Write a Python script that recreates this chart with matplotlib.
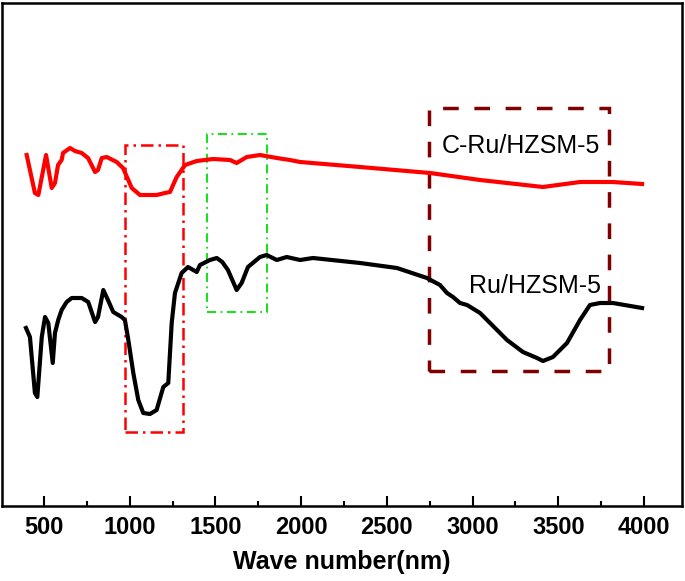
import matplotlib.pyplot as plt
from matplotlib.patches import Rectangle

plt.rcParams['font.family'] = ['Liberation Sans', 'DejaVu Sans']

# C-Ru/HZSM-5 spectrum (arbitrary transmittance units)
wn_cru = [399, 447, 467, 512, 545, 564, 582, 603, 611, 652, 681, 720, 757, 798, 815,
          837, 866, 924, 961, 1012, 1060, 1157, 1206, 1235, 1274, 1323, 1391, 1486,
          1585, 1624, 1683, 1760, 1858, 1935, 1994, 2344, 2752, 3044, 3411, 3627,
          3819, 3989]
t_cru = [351, 313, 311, 351, 318, 323, 341, 346, 353, 358, 355, 353, 348, 334, 336,
         348, 349, 344, 338, 318, 311, 311, 313, 314, 329, 341, 345, 347,
         346, 343, 349, 351, 348, 346, 344, 339, 333, 326, 319, 324,
         324, 322]

# Ru/HZSM-5 spectrum
wn_ru = [395, 418, 447, 461, 487, 506, 525, 551, 564, 583, 603, 632, 662, 720, 758,
         798, 815, 846, 873, 904, 953, 972, 992, 1021, 1050, 1079, 1118, 1157, 1196,
         1225, 1245, 1264, 1303, 1340, 1391, 1410, 1468, 1508, 1540, 1573, 1624, 1653,
         1690, 1760, 1799, 1858, 1916, 1994, 2069, 2344, 2559, 2734, 2810, 2851, 2886,
         2927, 2968, 3044, 3201, 3294, 3376, 3411, 3469, 3551, 3627, 3685, 3744, 3819,
         3989]
t_ru = [178, 169, 113, 109, 169, 189, 183, 143, 173, 186, 196, 204, 208, 208, 204,
        184, 189, 216, 206, 194, 189, 186, 166, 133, 106, 93, 92, 96, 119,
        123, 183, 213, 233, 239, 234, 241, 246, 248, 244, 236, 216, 223,
        239, 249, 251, 246, 249, 246, 248, 243, 238, 228, 221, 213, 209,
        203, 201, 193, 166, 154, 148, 145, 149, 163, 186, 201, 203, 203,
        198]

labels = ['C-Ru/HZSM-5', 'Ru/HZSM-5']
label_pos = [(3283, 360), (3365, 220)]

# highlighted regions: (x0, x1, y0, y1)
boxes = [(972, 1311, 74, 361), (1453, 1799, 194, 372), (2748, 3798, 135, 398)]
box_colors = ['#ff0000', '#00e000', '#800000']
box_dashes = [(5, 2, 1, 2), (5, 2.5, 1, 2.5), (4.5, 4.5)]
box_widths = [1.8, 1.3, 2.5]

fig = plt.figure(figsize=(6.85, 5.81), dpi=100)
ax = fig.add_axes([2 / 685, 75 / 581, 680 / 685, 503 / 581])

ax.plot(wn_cru, t_cru, color='#ff0000', lw=3)
ax.plot(wn_ru, t_ru, color='black', lw=3)

for (x0, x1, y0, y1), c, d, w in zip(boxes, box_colors, box_dashes, box_widths):
    r = Rectangle((x0, y0), x1 - x0, y1 - y0, fill=False, edgecolor=c, lw=w)
    r.set_linestyle((0, d))
    ax.add_patch(r)

for lab, (x, y) in zip(labels, label_pos):
    ax.text(x, y, lab, fontsize=18, ha='center', va='center')

ax.set_xlim(255, 4222)
ax.set_ylim(0, 503)
ax.set_xticks([500, 1000, 1500, 2000, 2500, 3000, 3500, 4000])
ax.set_xticks([750, 1250, 1750, 2250, 2750, 3250, 3750], minor=True)
ax.set_yticks([])
ax.tick_params(axis='x', which='major', direction='in', length=7, width=1.5,
               labelsize=17, pad=7)
ax.tick_params(axis='x', which='minor', direction='in', length=3.5, width=1.5)
for lbl in ax.get_xticklabels():
    lbl.set_fontweight('bold')
for s in ax.spines.values():
    s.set_linewidth(1.8)

ax.set_xlabel('Wave number(nm)', fontsize=18, fontweight='bold', labelpad=8)

fig.savefig('out.png', dpi=100)
